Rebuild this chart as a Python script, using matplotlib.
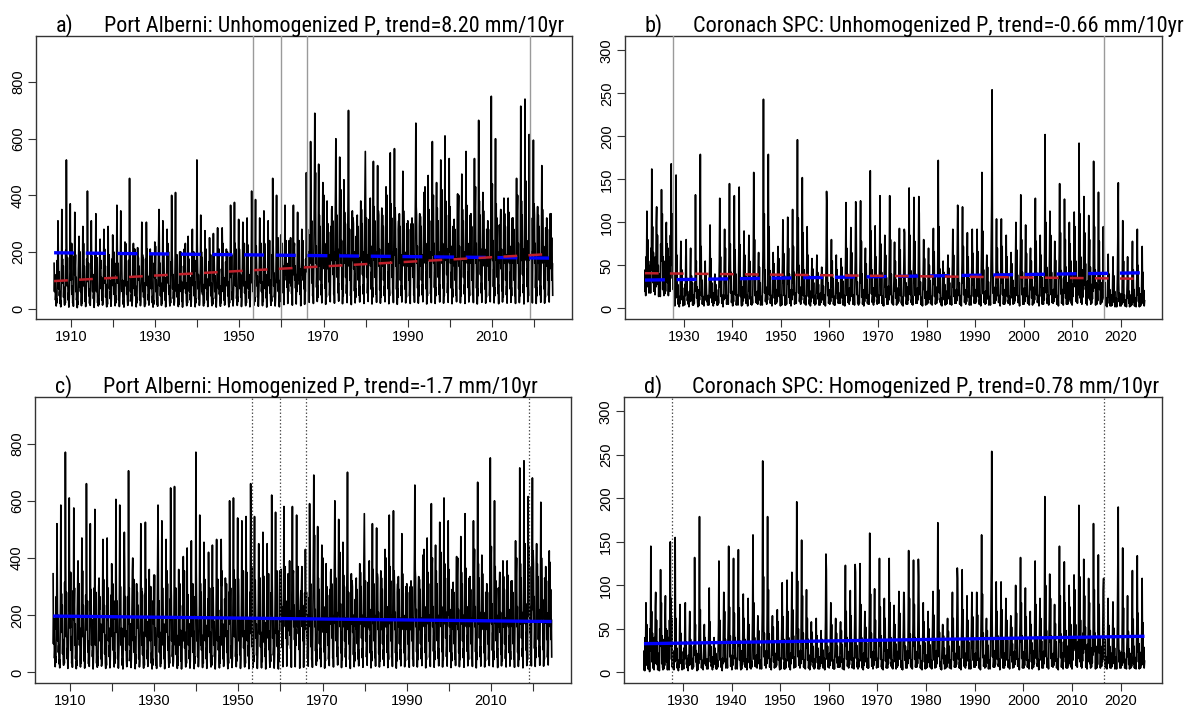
import numpy as np
import matplotlib
matplotlib.use("Agg")
import matplotlib.pyplot as plt

# ---------------- data (monthly precipitation, mm; one row per year, Jan..Dec) ----------------
PA_START = 1906   # Port Alberni first year
CO_START = 1922   # Coronach SPC first year

pa_unhom = [
    [160, 60, 120, 85, 30, 50, 9, 35, 20, 170, 95, 310],
    [190, 70, 130, 45, 60, 18, 30, 6, 80, 150, 350, 120],
    [175, 90, 150, 40, 75, 25, 12, 40, 20, 205, 110, 525],
    [240, 80, 180, 95, 30, 55, 5, 28, 70, 130, 370, 140],
    [210, 100, 230, 50, 80, 20, 35, 8, 65, 185, 120, 340],
    [150, 190, 60, 110, 30, 45, 3, 25, 15, 140, 205, 255],
    [170, 75, 200, 60, 100, 28, 10, 45, 20, 160, 290, 110],
    [230, 80, 150, 95, 25, 60, 7, 30, 90, 175, 100, 415],
    [200, 95, 160, 45, 70, 18, 40, 11, 55, 145, 310, 140],
    [185, 130, 60, 120, 35, 50, 4, 30, 95, 190, 110, 335],
    [155, 60, 180, 70, 20, 45, 9, 35, 15, 130, 195, 245],
    [140, 170, 70, 110, 30, 55, 12, 20, 80, 165, 280, 100],
    [210, 90, 150, 40, 85, 20, 6, 40, 15, 150, 290, 120],
    [160, 190, 70, 100, 35, 60, 8, 30, 85, 175, 90, 260],
    [180, 80, 200, 50, 90, 25, 10, 45, 20, 160, 120, 365],
    [210, 90, 160, 120, 30, 55, 7, 35, 70, 185, 345, 130],
    [195, 140, 60, 100, 40, 15, 30, 5, 60, 140, 235, 105],
    [230, 80, 170, 50, 95, 27, 11, 35, 25, 170, 110, 460],
    [170, 190, 60, 110, 25, 50, 9, 30, 80, 150, 230, 90],
    [165, 70, 210, 45, 80, 30, 6, 40, 20, 135, 215, 120],
    [180, 100, 150, 85, 30, 55, 10, 25, 90, 155, 305, 110],
    [190, 60, 180, 40, 90, 22, 7, 38, 15, 175, 100, 305],
    [175, 210, 80, 115, 30, 50, 12, 20, 85, 140, 210, 90],
    [160, 70, 195, 60, 20, 45, 5, 30, 15, 160, 110, 235],
    [145, 220, 60, 100, 35, 15, 40, 8, 70, 150, 250, 350],
    [205, 80, 160, 45, 90, 31, 11, 35, 20, 170, 310, 120],
    [190, 140, 60, 110, 30, 55, 6, 25, 85, 145, 280, 100],
    [230, 90, 200, 50, 80, 28, 9, 40, 20, 165, 120, 400],
    [210, 170, 70, 120, 35, 60, 12, 25, 80, 180, 410, 130],
    [180, 60, 190, 40, 85, 30, 7, 35, 15, 140, 200, 95],
    [150, 200, 60, 95, 25, 50, 5, 30, 75, 150, 110, 210],
    [165, 70, 230, 55, 90, 27, 10, 40, 20, 135, 255, 100],
    [175, 140, 60, 110, 30, 50, 8, 25, 85, 160, 280, 120],
    [190, 80, 200, 45, 95, 23, 6, 35, 20, 170, 130, 525],
    [230, 160, 70, 120, 35, 60, 11, 30, 90, 150, 330, 110],
    [200, 60, 180, 50, 85, 26, 9, 40, 20, 145, 275, 95],
    [185, 210, 70, 105, 30, 55, 7, 25, 80, 165, 120, 250],
    [170, 80, 190, 45, 90, 24, 10, 38, 15, 155, 265, 100],
    [190, 125, 60, 115, 35, 50, 5, 30, 85, 175, 285, 110],
    [200, 70, 210, 50, 80, 25, 8, 40, 20, 140, 120, 285],
    [195, 230, 60, 110, 30, 55, 12, 25, 85, 165, 120, 210],
    [180, 80, 200, 45, 95, 26, 6, 35, 20, 180, 110, 365],
    [220, 120, 190, 60, 30, 60, 9, 30, 90, 170, 375, 130],
    [230, 80, 210, 110, 35, 55, 11, 40, 25, 185, 315, 120],
    [210, 170, 70, 120, 40, 60, 7, 30, 90, 175, 305, 110],
    [215, 80, 230, 55, 95, 25, 10, 45, 20, 165, 320, 130],
    [225, 150, 70, 120, 36, 60, 6, 30, 95, 180, 140, 415],
    [240, 90, 250, 60, 100, 33, 12, 40, 25, 190, 385, 140],
    [220, 160, 80, 115, 40, 55, 8, 35, 90, 170, 320, 120],
    [210, 90, 230, 60, 95, 30, 10, 40, 25, 185, 345, 130],
    [230, 170, 70, 120, 38, 55, 5, 30, 95, 175, 310, 120],
    [215, 80, 240, 55, 100, 29, 11, 45, 25, 190, 140, 460],
    [245, 180, 80, 125, 40, 60, 9, 35, 95, 200, 400, 130],
    [225, 90, 250, 60, 100, 27, 6, 45, 25, 180, 260, 120],
    [200, 110, 230, 90, 150, 55, 110, 14, 130, 175, 365, 120],
    [210, 240, 100, 160, 75, 120, 18, 100, 60, 165, 240, 110],
    [195, 90, 250, 80, 140, 52, 105, 12, 125, 180, 365, 120],
    [215, 230, 100, 150, 72, 120, 16, 95, 60, 170, 340, 110],
    [205, 100, 240, 85, 140, 50, 100, 10, 130, 160, 280, 120],
    [190, 240, 100, 150, 70, 115, 15, 90, 60, 175, 130, 480],
    [300, 150, 280, 120, 200, 50, 90, 22, 150, 260, 180, 590],
    [380, 160, 310, 90, 170, 45, 75, 18, 140, 280, 450, 690],
    [350, 480, 160, 220, 75, 130, 25, 80, 40, 300, 510, 190],
    [330, 150, 290, 100, 180, 48, 85, 20, 150, 270, 445, 170],
    [340, 400, 140, 230, 72, 120, 15, 70, 40, 260, 380, 160],
    [300, 140, 270, 95, 190, 46, 80, 24, 140, 290, 170, 350],
    [360, 180, 310, 120, 200, 50, 85, 19, 150, 275, 420, 600],
    [380, 170, 330, 110, 210, 56, 90, 26, 170, 310, 535, 200],
    [350, 420, 160, 240, 69, 140, 17, 75, 45, 285, 455, 180],
    [340, 160, 300, 110, 190, 53, 85, 21, 160, 295, 420, 700],
    [360, 150, 280, 100, 180, 45, 75, 14, 140, 265, 345, 170],
    [320, 300, 140, 200, 62, 120, 20, 70, 40, 255, 160, 300],
    [330, 150, 290, 100, 180, 47, 80, 23, 150, 270, 380, 170],
    [350, 180, 300, 120, 200, 51, 85, 18, 160, 285, 420, 555],
    [370, 160, 320, 110, 190, 54, 90, 25, 150, 300, 315, 160],
    [340, 390, 150, 220, 68, 130, 16, 75, 40, 280, 520, 180],
    [360, 170, 310, 110, 200, 52, 85, 22, 160, 290, 505, 190],
    [345, 330, 150, 210, 66, 120, 19, 80, 40, 275, 355, 170],
    [330, 150, 290, 100, 180, 45, 80, 24, 150, 265, 430, 160],
    [350, 400, 160, 230, 70, 130, 17, 75, 45, 285, 550, 180],
    [370, 170, 320, 110, 200, 53, 90, 21, 160, 295, 565, 190],
    [355, 300, 150, 210, 68, 120, 15, 70, 40, 280, 310, 170],
    [335, 160, 290, 100, 190, 46, 80, 23, 150, 270, 485, 170],
    [345, 280, 150, 200, 69, 120, 20, 75, 40, 275, 300, 160],
    [310, 150, 280, 100, 180, 44, 75, 18, 140, 260, 300, 150],
    [320, 170, 300, 110, 190, 47, 80, 22, 150, 270, 420, 655],
    [360, 330, 160, 220, 72, 130, 19, 80, 45, 290, 335, 170],
    [325, 150, 290, 100, 190, 48, 85, 24, 150, 275, 410, 170],
    [340, 430, 160, 230, 70, 130, 16, 70, 45, 285, 470, 180],
    [350, 170, 310, 110, 200, 52, 85, 21, 160, 290, 590, 190],
    [370, 400, 160, 230, 74, 130, 18, 75, 45, 300, 445, 180],
    [355, 170, 310, 110, 200, 50, 85, 23, 150, 285, 525, 190],
    [365, 420, 160, 230, 73, 140, 19, 75, 45, 295, 610, 190],
    [380, 170, 330, 120, 210, 55, 90, 22, 160, 305, 530, 200],
    [360, 300, 160, 220, 72, 130, 17, 70, 40, 290, 275, 160],
    [315, 150, 280, 100, 180, 47, 80, 24, 150, 265, 405, 170],
    [340, 400, 150, 220, 69, 130, 20, 75, 45, 280, 475, 180],
    [350, 170, 310, 110, 200, 51, 85, 18, 160, 290, 555, 190],
    [365, 310, 160, 230, 74, 130, 23, 80, 45, 300, 330, 170],
    [335, 160, 290, 100, 190, 48, 80, 21, 150, 275, 530, 180],
    [355, 430, 160, 230, 72, 130, 16, 70, 45, 290, 665, 190],
    [380, 170, 330, 120, 210, 55, 90, 22, 160, 305, 410, 190],
    [345, 260, 150, 210, 69, 120, 19, 75, 40, 280, 265, 160],
    [310, 150, 280, 100, 180, 45, 80, 24, 150, 260, 750, 180],
    [390, 440, 170, 240, 77, 140, 20, 75, 45, 310, 600, 200],
    [370, 170, 320, 110, 200, 53, 85, 17, 160, 295, 250, 160],
    [305, 350, 140, 210, 63, 120, 23, 80, 40, 255, 390, 160],
    [335, 160, 290, 100, 190, 48, 80, 19, 150, 275, 390, 170],
    [340, 300, 160, 220, 69, 130, 22, 75, 45, 280, 320, 170],
    [320, 160, 280, 100, 180, 46, 75, 18, 150, 270, 460, 180],
    [345, 400, 160, 230, 70, 130, 21, 75, 45, 285, 715, 190],
    [380, 170, 330, 120, 210, 56, 85, 16, 160, 305, 740, 200],
    [395, 450, 170, 240, 78, 140, 24, 80, 45, 310, 615, 200],
    [380, 170, 320, 120, 200, 54, 85, 20, 160, 300, 595, 190],
    [370, 330, 160, 230, 73, 130, 18, 75, 45, 295, 360, 170],
    [330, 160, 290, 100, 190, 48, 80, 22, 150, 275, 505, 180],
    [350, 280, 160, 220, 70, 130, 19, 75, 40, 285, 280, 160],
    [320, 150, 280, 100, 180, 46, 80, 23, 150, 270, 335, 160],
    [335, 140, 250, 100, 160, 47],
]

# homogenized Port Alberni: 1906-1965 adjusted, 1966-2018 as unhomogenized, 2019-2024 adjusted
pa_hom_early = [
    [345, 100, 190, 130, 50, 80, 20, 55, 35, 265, 150, 520],
    [295, 110, 200, 70, 95, 30, 45, 16, 125, 245, 585, 180],
    [275, 140, 235, 65, 115, 40, 25, 62, 32, 315, 170, 770],
    [370, 125, 280, 145, 48, 85, 14, 45, 110, 205, 610, 215],
    [325, 155, 350, 78, 125, 32, 55, 18, 100, 285, 185, 575],
    [235, 295, 95, 170, 48, 70, 13, 40, 25, 220, 320, 390],
    [265, 118, 310, 95, 155, 45, 19, 70, 32, 250, 470, 170],
    [355, 125, 235, 145, 40, 95, 15, 48, 140, 270, 155, 660],
    [310, 148, 250, 72, 110, 30, 62, 21, 85, 225, 520, 215],
    [290, 205, 95, 185, 55, 78, 12, 48, 145, 295, 170, 570],
    [240, 95, 280, 110, 32, 70, 18, 55, 25, 205, 300, 330],
    [220, 265, 110, 170, 48, 85, 22, 32, 125, 255, 465, 155],
    [325, 140, 235, 65, 130, 32, 14, 62, 25, 235, 470, 185],
    [250, 295, 110, 155, 55, 95, 16, 48, 130, 270, 140, 380],
    [280, 125, 310, 78, 140, 40, 19, 70, 32, 250, 185, 605],
    [325, 140, 250, 185, 48, 85, 15, 55, 110, 285, 585, 200],
    [300, 218, 95, 155, 62, 25, 48, 12, 95, 220, 365, 490],
    [355, 125, 265, 78, 145, 42, 20, 55, 40, 265, 170, 705],
    [265, 295, 95, 170, 40, 78, 17, 48, 125, 235, 360, 400],
    [255, 110, 325, 70, 125, 48, 13, 62, 32, 212, 310, 185],
    [280, 155, 235, 130, 48, 85, 19, 40, 140, 242, 520, 170],
    [295, 95, 280, 62, 140, 35, 15, 60, 25, 272, 155, 525],
    [272, 325, 125, 178, 48, 78, 21, 32, 130, 218, 360, 140],
    [250, 110, 300, 95, 32, 70, 12, 48, 25, 250, 170, 340],
    [226, 340, 95, 155, 55, 25, 62, 14, 110, 233, 390, 585],
    [318, 125, 250, 70, 140, 50, 20, 55, 32, 265, 530, 185],
    [295, 218, 95, 170, 48, 85, 13, 40, 130, 226, 465, 155],
    [356, 140, 310, 78, 125, 46, 18, 62, 32, 256, 185, 645],
    [326, 264, 110, 185, 55, 95, 22, 40, 125, 280, 650, 200],
    [280, 95, 295, 62, 130, 50, 14, 55, 25, 218, 360, 150],
    [234, 310, 95, 148, 40, 78, 12, 48, 115, 234, 170, 405],
    [257, 110, 355, 85, 140, 45, 19, 62, 32, 210, 435, 155],
    [272, 218, 95, 170, 48, 78, 15, 40, 130, 250, 460, 185],
    [296, 125, 310, 70, 145, 39, 13, 55, 32, 265, 200, 770],
    [357, 249, 110, 185, 55, 95, 20, 48, 140, 234, 550, 170],
    [311, 95, 280, 78, 130, 43, 17, 62, 32, 226, 455, 150],
    [288, 325, 110, 165, 48, 85, 14, 40, 125, 257, 185, 420],
    [265, 125, 295, 70, 140, 40, 19, 60, 25, 241, 445, 155],
    [296, 195, 95, 178, 55, 78, 12, 48, 130, 272, 465, 170],
    [311, 110, 325, 78, 125, 42, 16, 62, 32, 218, 185, 465],
    [303, 355, 95, 170, 48, 85, 21, 40, 130, 257, 185, 330],
    [280, 125, 310, 70, 145, 43, 13, 55, 32, 280, 170, 600],
    [342, 185, 295, 95, 48, 95, 17, 48, 140, 265, 610, 200],
    [357, 125, 325, 170, 55, 85, 20, 62, 40, 288, 540, 185],
    [327, 264, 110, 185, 62, 95, 14, 48, 140, 272, 530, 170],
    [334, 125, 355, 85, 145, 42, 19, 70, 32, 257, 545, 200],
    [350, 233, 110, 185, 57, 95, 13, 48, 145, 280, 215, 660],
    [351, 135, 370, 90, 150, 48, 18, 60, 38, 278, 545, 210],
    [322, 234, 120, 170, 60, 82, 14, 52, 135, 249, 450, 180],
    [307, 135, 330, 90, 140, 44, 16, 60, 38, 271, 490, 195],
    [337, 249, 105, 175, 56, 82, 12, 45, 140, 256, 450, 180],
    [315, 120, 345, 80, 145, 42, 18, 65, 38, 278, 205, 620],
    [358, 263, 120, 180, 60, 88, 15, 52, 140, 293, 560, 190],
    [329, 135, 355, 90, 145, 40, 12, 65, 38, 263, 355, 175],
    [318, 175, 360, 143, 230, 87, 170, 20, 200, 278, 580, 190],
    [334, 370, 160, 250, 119, 185, 22, 155, 95, 262, 345, 175],
    [310, 145, 390, 130, 215, 83, 160, 18, 195, 286, 580, 190],
    [342, 355, 160, 235, 114, 185, 20, 150, 95, 270, 550, 175],
    [326, 160, 370, 135, 215, 80, 155, 15, 200, 254, 285, 190],
    [302, 370, 160, 235, 111, 180, 18, 140, 95, 278, 205, 430],
]
pa_hom_late = [
    [440, 195, 370, 138, 230, 62, 98, 23, 185, 345, 680, 220],
    [425, 380, 185, 265, 84, 150, 21, 86, 52, 340, 450, 195],
    [380, 185, 335, 115, 220, 55, 92, 25, 172, 315, 595, 205],
    [400, 320, 185, 255, 80, 150, 22, 86, 46, 330, 320, 185],
    [370, 172, 320, 115, 207, 53, 92, 26, 172, 310, 425, 185],
    [385, 160, 290, 115, 185, 54],
]

co_unhom = [
    [20, 45, 15, 60, 40, 113, 50, 80, 25, 55, 18, 35],
    [22, 50, 18, 70, 45, 162, 60, 95, 30, 65, 20, 40],
    [35, 16, 60, 25, 100, 118, 45, 85, 28, 50, 14, 30],
    [18, 40, 14, 75, 55, 138, 65, 110, 22, 60, 24, 15],
    [30, 17, 55, 20, 90, 100, 40, 75, 30, 70, 15, 45],
    [24, 60, 20, 85, 50, 168, 70, 110, 35, 90, 22, 40],
    [6, 18, 3, 25, 12, 155, 35, 62, 14, 28, 5, 10],
    [8, 2, 14, 6, 52, 78, 20, 45, 10, 24, 3, 12],
    [5, 14, 4, 28, 15, 60, 80, 18, 35, 9, 16, 5],
    [12, 2, 20, 8, 45, 70, 15, 38, 9, 30, 4, 10],
    [4, 16, 6, 30, 20, 132, 40, 55, 12, 25, 8, 2],
    [9, 3, 22, 10, 62, 179, 36, 72, 15, 33, 5, 14],
    [6, 12, 3, 18, 35, 55, 10, 40, 25, 8, 15, 4],
    [5, 15, 4, 24, 50, 97, 20, 58, 12, 30, 7, 10],
    [12, 3, 18, 6, 32, 40, 14, 28, 9, 22, 4, 8],
    [4, 14, 6, 27, 55, 128, 25, 60, 14, 35, 6, 12],
    [8, 2, 16, 10, 48, 92, 30, 70, 12, 38, 5, 14],
    [6, 15, 5, 30, 60, 145, 35, 75, 18, 42, 7, 12],
    [12, 3, 20, 8, 56, 131, 28, 68, 16, 40, 4, 10],
    [5, 16, 4, 24, 62, 141, 30, 74, 14, 36, 8, 3],
    [14, 4, 25, 9, 50, 90, 25, 62, 12, 38, 6, 15],
    [6, 15, 3, 22, 45, 85, 20, 55, 11, 34, 5, 12],
    [4, 13, 6, 27, 65, 158, 35, 80, 15, 40, 7, 14],
    [12, 6, 20, 5, 42, 65, 18, 48, 10, 30, 4, 9],
    [5, 14, 4, 32, 70, 243, 48, 110, 18, 45, 8, 15],
    [14, 5, 25, 10, 68, 179, 40, 95, 16, 44, 6, 12],
    [6, 15, 3, 24, 45, 65, 20, 52, 12, 36, 5, 10],
    [12, 6, 22, 8, 48, 72, 25, 58, 14, 34, 7, 3],
    [7, 16, 4, 28, 52, 103, 30, 64, 15, 38, 4, 12],
    [4, 15, 5, 25, 55, 106, 28, 70, 13, 40, 6, 14],
    [14, 3, 22, 10, 58, 115, 30, 72, 16, 42, 5, 12],
    [9, 18, 6, 33, 72, 196, 45, 105, 18, 50, 8, 15],
    [15, 5, 25, 10, 65, 152, 40, 88, 15, 45, 6, 12],
    [5, 14, 4, 26, 50, 95, 28, 62, 14, 38, 5, 10],
    [12, 3, 20, 8, 40, 58, 22, 46, 12, 30, 6, 14],
    [4, 15, 5, 20, 38, 62, 18, 42, 11, 28, 4, 10],
    [12, 4, 18, 7, 32, 48, 15, 38, 10, 26, 5, 13],
    [7, 16, 3, 28, 60, 136, 118, 42, 15, 30, 6, 12],
    [14, 5, 22, 8, 48, 80, 25, 55, 13, 35, 5, 10],
    [4, 14, 4, 20, 42, 62, 18, 45, 11, 30, 6, 12],
    [12, 6, 18, 6, 40, 58, 22, 48, 12, 32, 4, 10],
    [7, 15, 3, 27, 58, 123, 30, 70, 15, 40, 7, 14],
    [14, 5, 24, 9, 52, 94, 28, 65, 14, 36, 5, 10],
    [6, 16, 4, 28, 60, 124, 115, 42, 16, 31, 6, 12],
    [4, 15, 6, 26, 62, 125, 30, 78, 13, 40, 5, 12],
    [13, 3, 22, 8, 45, 70, 20, 52, 12, 34, 6, 10],
    [5, 16, 5, 30, 65, 160, 40, 90, 17, 45, 7, 14],
    [14, 4, 24, 8, 50, 96, 28, 60, 14, 38, 5, 10],
    [7, 16, 6, 28, 58, 131, 30, 75, 15, 42, 6, 14],
    [4, 14, 3, 24, 48, 85, 25, 62, 13, 36, 5, 10],
    [14, 5, 26, 10, 60, 131, 35, 80, 16, 40, 7, 12],
    [5, 14, 4, 22, 44, 77, 20, 55, 12, 33, 4, 10],
    [14, 6, 24, 8, 52, 93, 28, 68, 15, 38, 6, 12],
    [4, 13, 3, 26, 50, 92, 88, 36, 14, 30, 5, 12],
    [13, 5, 25, 10, 62, 140, 35, 85, 16, 44, 7, 10],
    [5, 14, 4, 28, 58, 129, 30, 78, 15, 40, 6, 12],
    [14, 6, 24, 10, 60, 130, 110, 42, 16, 31, 5, 10],
    [4, 13, 3, 23, 46, 80, 22, 58, 12, 34, 4, 12],
    [12, 5, 20, 6, 42, 70, 20, 50, 11, 32, 6, 10],
    [5, 14, 4, 26, 52, 93, 28, 66, 14, 38, 5, 12],
    [14, 6, 25, 10, 70, 172, 40, 95, 18, 46, 7, 12],
    [4, 12, 3, 19, 36, 55, 16, 42, 10, 28, 4, 10],
    [12, 5, 20, 6, 40, 62, 18, 47, 11, 30, 5, 12],
    [6, 14, 4, 26, 50, 92, 25, 62, 14, 37, 6, 10],
    [13, 6, 22, 9, 58, 120, 108, 40, 15, 30, 5, 12],
    [5, 15, 3, 27, 56, 118, 30, 72, 16, 39, 7, 14],
    [12, 5, 22, 8, 48, 88, 25, 60, 13, 35, 4, 10],
    [6, 14, 4, 26, 50, 92, 28, 64, 14, 37, 6, 12],
    [13, 6, 22, 8, 52, 92, 28, 66, 14, 36, 5, 10],
    [8, 16, 3, 31, 68, 158, 40, 90, 17, 45, 7, 14],
    [12, 5, 20, 6, 42, 62, 20, 48, 11, 31, 4, 10],
    [6, 14, 4, 30, 75, 120, 254, 60, 18, 38, 6, 12],
    [14, 6, 25, 9, 55, 104, 30, 70, 15, 42, 7, 10],
    [7, 15, 3, 27, 56, 104, 30, 72, 16, 40, 5, 14],
    [12, 5, 22, 8, 50, 85, 25, 60, 14, 37, 6, 10],
    [6, 14, 4, 23, 44, 65, 20, 52, 12, 33, 5, 12],
    [14, 6, 24, 9, 54, 100, 28, 68, 15, 39, 7, 10],
    [7, 15, 3, 29, 62, 132, 35, 80, 16, 42, 5, 14],
    [12, 5, 24, 8, 52, 97, 28, 64, 14, 38, 6, 10],
    [6, 14, 4, 23, 46, 70, 22, 55, 12, 34, 4, 12],
    [14, 6, 25, 10, 60, 128, 32, 78, 16, 41, 7, 10],
    [7, 15, 3, 26, 50, 85, 25, 62, 14, 36, 5, 14],
    [12, 5, 24, 10, 72, 202, 45, 100, 18, 48, 6, 12],
    [6, 16, 4, 30, 60, 113, 35, 85, 16, 42, 7, 10],
    [14, 6, 22, 8, 46, 78, 22, 56, 13, 35, 5, 12],
    [7, 15, 3, 30, 65, 145, 35, 88, 17, 44, 6, 14],
    [6, 22, 4, 35, 18, 127, 40, 80, 12, 48, 5, 30],
    [16, 5, 30, 8, 45, 100, 36, 75, 10, 55, 6, 24],
    [4, 28, 14, 40, 25, 112, 45, 95, 28, 55, 8, 32],
    [20, 6, 35, 16, 50, 192, 60, 110, 12, 60, 7, 38],
    [5, 30, 13, 45, 22, 130, 40, 88, 27, 52, 6, 28],
    [15, 4, 32, 12, 48, 108, 50, 80, 10, 48, 5, 26],
    [6, 28, 11, 40, 20, 171, 50, 95, 24, 45, 4, 30],
    [12, 5, 28, 9, 42, 135, 45, 78, 22, 40, 5, 25],
    [20, 7, 30, 12, 50, 95, 25, 80, 10, 30, 4, 12],
    [3, 12, 2, 15, 35, 63, 14, 40, 6, 22, 3, 9],
    [10, 3, 16, 4, 32, 60, 14, 38, 7, 20, 2, 8],
    [3, 12, 2, 18, 40, 95, 146, 30, 8, 18, 3, 10],
    [10, 3, 17, 5, 45, 102, 25, 55, 7, 16, 3, 9],
    [3, 10, 2, 14, 30, 60, 12, 35, 6, 20, 2, 8],
    [10, 3, 16, 4, 38, 78, 15, 45, 7, 22, 3, 9],
    [3, 12, 2, 18, 42, 92, 16, 50, 8, 24, 2, 10],
    [10, 3, 17, 5, 36, 72, 14, 42, 6, 21, 3, 9],
]

# homogenized Coronach: 1922-1927 adjusted, 1928-2015 as unhomogenized, 2016-2024 adjusted from mid-2016
co_hom_early = [
    [3, 25, 2, 40, 18, 80, 30, 55, 8, 35, 4, 15],
    [4, 30, 1, 50, 25, 145, 40, 70, 12, 45, 5, 20],
    [18, 3, 40, 10, 75, 92, 25, 60, 9, 35, 3, 14],
    [5, 22, 2, 50, 30, 118, 45, 80, 10, 42, 6, 3],
    [15, 4, 38, 8, 60, 88, 25, 50, 12, 48, 3, 25],
    [4, 40, 3, 60, 30, 150, 48, 85, 15, 62, 6, 20],
]
co_hom_late = [
    [20, 7, 30, 12, 50, 95, 108, 40, 15, 38, 6, 18],
    [5, 18, 4, 22, 47, 85, 20, 54, 10, 30, 5, 14],
    [15, 5, 22, 7, 43, 81, 20, 51, 10, 28, 4, 12],
    [5, 18, 4, 25, 54, 128, 190, 40, 12, 25, 5, 15],
    [15, 5, 23, 8, 61, 143, 35, 74, 11, 22, 5, 13],
    [5, 15, 4, 20, 40, 88, 18, 47, 9, 27, 4, 12],
    [15, 5, 22, 7, 51, 117, 22, 61, 10, 30, 5, 13],
    [5, 17, 4, 25, 57, 134, 24, 68, 12, 33, 4, 15],
    [15, 5, 23, 8, 49, 108, 20, 57, 9, 29, 5, 13],
]

# breakpoints (decimal years) and trend-line end points
pa_breaks = [1953.3, 1960.0, 1966.0, 2019.0]
co_breaks = [1927.8, 2016.5]
pa_trend_x = [1906.0, 2024.4]
pa_trend_unhom = [97, 193]
pa_trend_hom = [197, 178]
co_trend_x = [1922.0, 2024.9]
co_trend_unhom = [41, 34.5]
co_trend_hom = [33, 41.5]

titles = [
    ("a)", "Port Alberni: Unhomogenized P, trend=8.20 mm/10yr"),
    ("b)", "Coronach SPC: Unhomogenized P, trend=-0.66 mm/10yr"),
    ("c)", "Port Alberni: Homogenized P, trend=-1.7 mm/10yr"),
    ("d)", "Coronach SPC: Homogenized P, trend=0.78 mm/10yr"),
]
title_widths_px = [462, 491, 435, 468]
pa_xticks = list(range(1910, 2021, 10))
pa_xlabels = ["1910", "", "1930", "", "1950", "", "1970", "", "1990", "", "2010", ""]
co_xticks = list(range(1930, 2021, 10))
co_xlabels = [str(y) for y in co_xticks]
pa_yticks = [0, 200, 400, 600, 800]
co_yticks = [0, 50, 100, 150, 200, 250, 300]

# ---------------- assemble ----------------
def flat(rows):
    return np.concatenate([np.asarray(r, dtype=float) for r in rows])

pa_a = flat(pa_unhom)
pa_c = flat(pa_hom_early + pa_unhom[60:113] + pa_hom_late)
co_b = flat(co_unhom)
co_d = flat(co_hom_early + co_unhom[6:94] + co_hom_late)

def tvec(start, n):
    return start + np.arange(n) / 12.0

W, H = 1197, 706
fig = plt.figure(figsize=(W / 100, H / 100), dpi=100)

TITLE_FONT = ["Liberation Sans Narrow", "Roboto Condensed", "Open Sans Condensed",
              "DejaVu Sans Condensed", "Liberation Sans", "DejaVu Sans"]
TICK_FONT = ["Liberation Sans", "DejaVu Sans"]

# axes boxes in pixels: left, right, top, bottom
boxes = [
    (36, 572, 36, 319),
    (625, 1162, 36, 319),
    (35, 571, 397, 683),
    (624, 1162, 397, 683),
]

panels = [
    dict(t=tvec(PA_START, len(pa_a)), y=pa_a, xlim=(1901.7, 2029.0), ylim=(-37, 963),
         xt=pa_xticks, xl=pa_xlabels, yt=pa_yticks, br=pa_breaks, hom=False,
         tx=pa_trend_x, tu=pa_trend_unhom, th=pa_trend_hom),
    dict(t=tvec(CO_START, len(co_b)), y=co_b, xlim=(1917.9, 2028.5), ylim=(-12.2, 316.5),
         xt=co_xticks, xl=co_xlabels, yt=co_yticks, br=co_breaks, hom=False,
         tx=co_trend_x, tu=co_trend_unhom, th=co_trend_hom),
    dict(t=tvec(PA_START, len(pa_c)), y=pa_c, xlim=(1901.7, 2029.0), ylim=(-37, 963),
         xt=pa_xticks, xl=pa_xlabels, yt=pa_yticks, br=pa_breaks, hom=True,
         tx=pa_trend_x, tu=None, th=pa_trend_hom),
    dict(t=tvec(CO_START, len(co_d)), y=co_d, xlim=(1917.9, 2028.5), ylim=(-12.2, 316.5),
         xt=co_xticks, xl=co_xlabels, yt=co_yticks, br=co_breaks, hom=True,
         tx=co_trend_x, tu=None, th=co_trend_hom),
]

renderer = fig.canvas.get_renderer()
for (l, r, tp, bt), p, (lab, ttl), tw in zip(boxes, panels, titles, title_widths_px):
    ax = fig.add_axes([l / W, 1 - bt / H, (r - l) / W, (bt - tp) / H])
    ax.plot(p["t"], p["y"], color="black", lw=1.2, zorder=2)
    for b in p["br"]:
        if p["hom"]:
            ax.axvline(b, color="#555555", lw=0.9, ls=(0, (1.2, 1.6)), zorder=3)
        else:
            ax.axvline(b, color="#9a9a9a", lw=1.0, zorder=3)
    if p["hom"]:
        ax.plot(p["tx"], p["th"], color="#0000ff", lw=2.4, zorder=4, solid_capstyle="butt")
    else:
        ax.plot(p["tx"], p["th"], color="#0000ff", lw=2.4, ls=(0, (6, 3.5)), zorder=4)
        ax.plot(p["tx"], p["tu"], color="#c0202a", lw=1.8, ls=(0, (5.5, 4.5)), zorder=5)
    ax.set_xlim(*p["xlim"])
    ax.set_ylim(*p["ylim"])
    ax.set_xticks(p["xt"])
    ax.set_xticklabels(p["xl"], fontfamily=TICK_FONT, fontsize=10.5)
    ax.set_yticks(p["yt"])
    ax.set_yticklabels([str(v) for v in p["yt"]], fontfamily=TICK_FONT, fontsize=10.5,
                       rotation=90, va="center")
    ax.tick_params(axis="both", direction="out", length=6, width=0.8, color="#333333", pad=2)
    for s in ax.spines.values():
        s.set_linewidth(1.0)
        s.set_color("#333333")
    base = tp - 4
    t_main = fig.text((l + 68) / W, 1 - base / H, ttl, ha="left", va="baseline",
                      fontsize=16, fontfamily=TITLE_FONT)
    wpx = t_main.get_window_extent(renderer=renderer).width
    fs = min(19.0, 16 * tw / wpx)
    t_main.set_fontsize(fs)
    fig.text((l + 20) / W, 1 - base / H, lab, ha="left", va="baseline",
             fontsize=fs, fontfamily=TITLE_FONT)

fig.savefig("out.png", dpi=100)
